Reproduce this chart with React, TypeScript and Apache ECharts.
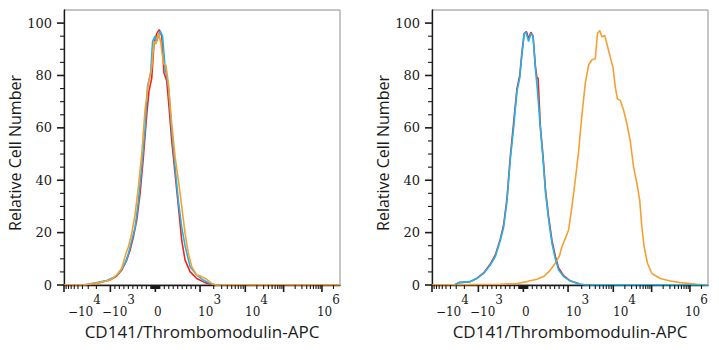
import React, { useEffect, useRef } from 'react';
import * as echarts from 'echarts';

// Display channel scale (biexponential display), 0 = left edge of plot
const X_MAX = 994;
const Y_MAX = 105;
// Major tick positions (display channels) for -10^4, -10^3, 0, 10^3, 10^4, 10^5, 10^6
const majorTickChannels = [0, 167, 329, 490, 653, 791, 929];
// Tick label texts and the channel where each label's left edge sits
const tickBase = ['−10', '−10', '0', '10', '10', '10'];
const tickExp = ['4', '3', '', '3', '4', '6'];
const labelAnchorChannels = [14, 137, 324, 483, 652, 911];
const yMajorTicks = [0, 20, 40, 60, 80, 100];
const yMinorTicks = [5, 10, 15, 25, 30, 35, 45, 50, 55, 65, 70, 75, 85, 90, 95];

// Left panel
const leftRed: [number, number][] = [
  [94, 0], [100, 0.4], [130, 1], [166, 1.9], [190, 3.4], [208, 5.7], [226, 9.5], [238, 13.3],
  [250, 18.4], [262, 24.8], [274, 35], [286, 49], [298, 65], [306, 74], [316, 79], [324, 92],
  [334, 96], [343, 97.5], [352, 95], [360, 81], [370, 78], [379, 67], [388, 55], [400, 42.5],
  [412, 30], [424, 17], [436, 9.5], [454, 5.1], [478, 2.5], [508, 0.9], [538, 0], [560, 0],
];
const leftBlue: [number, number][] = [
  [70, 0], [88, 0.4], [118, 0.9], [154, 1.7], [184, 3.2], [202, 5.1], [220, 8.3], [232, 12],
  [244, 17], [256, 22], [268, 32], [280, 45], [292, 60], [301, 76], [312, 81], [319, 93],
  [328, 95], [334, 93], [346, 97], [355, 95], [364, 83], [376, 76], [388, 59], [400, 45],
  [412, 32], [424, 22], [436, 15], [454, 7], [478, 3.8], [502, 1.9], [526, 0.6], [550, 0], [570, 0],
];
const leftOrange: [number, number][] = [
  [0, 0], [70, 0], [88, 0.25], [130, 0.9], [166, 1.9], [190, 3.8], [208, 6.4], [223, 12],
  [232, 14.6], [244, 19.7], [256, 27], [268, 37.5], [280, 50], [292, 67], [304, 77], [316, 83],
  [324, 93], [331, 92], [340, 96], [348, 93], [358, 84.5], [367, 84], [376, 77], [388, 61.6],
  [400, 49], [412, 40], [424, 30], [436, 19.7], [448, 12], [460, 7], [478, 3.8], [496, 3.2],
  [514, 2.2], [532, 0.6], [547, 0], [994, 0],
];

// Right panel
const rightRed: [number, number][] = [
  [80, 0], [96, 0.9], [138, 1.3], [162, 2.6], [186, 4.6], [210, 8], [228, 11.5], [246, 17.5],
  [258, 23], [270, 33], [282, 49], [294, 62], [306, 75], [316, 80], [324, 89], [332, 96],
  [340, 96.8], [348, 94], [356, 96.5], [364, 95], [372, 84], [378, 79], [382, 79], [390, 61],
  [400, 49], [409, 36], [420, 26], [432, 17], [444, 11], [456, 6.5], [474, 3.6], [498, 1.6],
  [534, 0.3], [558, 0], [580, 0],
];
const rightOrange: [number, number][] = [
  [0, 0], [246, 0.25], [306, 0.6], [342, 1.3], [378, 2.2], [402, 3.2], [426, 5.7], [444, 8.3],
  [458, 10.8], [468, 14.6], [480, 17.8], [492, 21], [504, 30], [516, 40], [528, 51], [540, 65],
  [552, 77], [564, 84], [576, 86], [588, 86.4], [596, 96], [604, 97.2], [612, 94.7], [622, 95.3],
  [630, 92], [642, 87], [652, 83], [660, 75.6], [668, 71], [678, 70.5], [690, 66.7], [702, 61.6],
  [714, 55], [726, 45], [738, 38.8], [748, 32.4], [756, 22], [764, 14.6], [776, 8.3], [792, 4.4],
  [822, 2.5], [858, 1.5], [894, 0.9], [930, 0.6], [954, 0.3], [994, 0],
];
const rightBlue: [number, number][] = [
  [84, 0], [96, 0.9], [138, 1.3], [162, 2.5], [186, 4.4], [210, 7.6], [228, 10.8], [246, 17],
  [258, 22], [270, 32], [282, 48], [294, 60], [306, 74], [316, 79], [324, 88], [332, 96],
  [338, 96.6], [348, 93], [356, 96], [364, 95], [372, 83], [380, 74], [390, 60], [400, 48],
  [409, 35], [420, 25], [432, 16], [444, 10], [456, 5.7], [474, 3.2], [498, 1.5], [534, 0.3],
  [558, 0], [994, 0],
];

const RED = '#f0231f';
const BLUE = '#1db6ea';
const ORANGE = '#f5a033';

function minorTickChannels(): number[] {
  const c = majorTickChannels;
  const out: number[] = [];
  const logs = [2, 3, 4, 5, 6, 7, 8, 9].map((m) => Math.log10(m));
  logs.forEach((l) => out.push(c[1] - (c[1] - c[0]) * l));
  for (let k = 1; k <= 9; k++) {
    out.push(c[2] - ((c[2] - c[1]) * k) / 10);
    out.push(c[2] + ((c[3] - c[2]) * k) / 10);
    out.push(c[2] - ((c[2] - c[1]) * k) / 100);
    out.push(c[2] + ((c[3] - c[2]) * k) / 100);
  }
  for (let i = 3; i < 6; i++) logs.forEach((l) => out.push(c[i] + (c[i + 1] - c[i]) * l));
  logs.forEach((l) => {
    const p = c[6] + (c[6] - c[5]) * l;
    if (p < X_MAX) out.push(p);
  });
  return out;
}

const serif = 'DejaVu Serif';
const sans = 'Open Sans';
const INK = '#1a1a1a';

function xAxis(gridIndex: number) {
  return {
    type: 'value', gridIndex, position: 'bottom', min: 0, max: X_MAX,
    axisLine: { show: true, onZero: false, lineStyle: { color: INK, width: 1.3 } },
    splitLine: { show: false },
    axisTick: { show: false },
    axisLabel: {
      show: true,
      showMinLabel: true,
      showMaxLabel: true,
      hideOverlap: false,
      customValues: labelAnchorChannels,
      align: 'left',
      margin: 9,
      color: INK,
      fontFamily: serif,
      fontSize: 12,
      formatter: (v: number) => {
        const i = labelAnchorChannels.indexOf(v);
        if (i < 0) return '';
        return tickExp[i] ? `{b|${tickBase[i]}}{s|${tickExp[i]}}` : `{b|${tickBase[i]}}`;
      },
      rich: {
        b: { fontFamily: serif, fontSize: 12, color: INK, lineHeight: 24, verticalAlign: 'bottom', align: 'left' },
        s: { fontFamily: serif, fontSize: 12, color: INK, lineHeight: 14, verticalAlign: 'top', align: 'left' },
      },
    },
    name: 'CD141/Thrombomodulin-APC',
    nameLocation: 'middle',
    nameGap: 38,
    nameTextStyle: { fontFamily: sans, fontSize: 17, color: INK },
  };
}

function yAxis(gridIndex: number) {
  return {
    type: 'value', gridIndex, position: 'left', min: 0, max: Y_MAX,
    axisLine: { show: true, onZero: false, lineStyle: { color: INK, width: 1.3 } },
    splitLine: { show: false },
    axisTick: { show: false },
    axisLabel: {
      show: true,
      customValues: yMajorTicks,
      margin: 12,
      color: INK,
      fontFamily: serif,
      fontSize: 13,
      formatter: (v: number) => `{y|${v}}`,
      rich: { y: { fontFamily: serif, fontSize: 13, color: INK } },
    },
    name: 'Relative Cell Number',
    nameLocation: 'middle',
    nameGap: 40,
    nameTextStyle: { fontFamily: sans, fontSize: 16, color: INK, padding: [0, 11, 0, 0] },
  };
}

// Tick marks drawn through the axes' own scales (api.coord)
function tickSeries(values: number[], dir: 'x' | 'y', len: number, width: number, gi: number) {
  return {
    type: 'custom',
    xAxisIndex: gi,
    yAxisIndex: gi,
    clip: false,
    silent: true,
    z: 5,
    encode: { x: 0, y: 1 },
    data: values.map((v) => (dir === 'x' ? [v, 0] : [0, v])),
    renderItem: (_params: any, api: any) => {
      const p = api.coord([api.value(0), api.value(1)]);
      const shape =
        dir === 'x'
          ? { x1: p[0], y1: p[1], x2: p[0], y2: p[1] + len }
          : { x1: p[0] - len, y1: p[1], x2: p[0], y2: p[1] };
      return { type: 'line', shape, style: { stroke: INK, lineWidth: width, fill: null } };
    },
  };
}

function line(data: [number, number][], color: string, gi: number, z: number) {
  return {
    type: 'line', data, xAxisIndex: gi, yAxisIndex: gi, showSymbol: false, symbol: 'none',
    lineStyle: { color, width: 1.6 }, itemStyle: { color }, z, clip: true,
  };
}

export default function App() {
  const ref = useRef<HTMLDivElement>(null);
  useEffect(() => {
    if (!ref.current) return;
    const chart = echarts.init(ref.current, undefined, { renderer: 'svg' });
    const minors = minorTickChannels();
    const ticks = (gi: number) => [
      tickSeries(majorTickChannels, 'x', 7, 1.6, gi),
      tickSeries(minors, 'x', 4, 1.1, gi),
      tickSeries(yMajorTicks, 'y', 7, 1.6, gi),
      tickSeries(yMinorTicks, 'y', 4, 1.1, gi),
    ];
    chart.setOption({
      animation: false,
      backgroundColor: '#fff',
      grid: [
        { left: 64, top: 10, width: 276, height: 275, show: true, borderColor: '#8a8a8a', borderWidth: 1, containLabel: false },
        { left: 432, top: 10, width: 276, height: 275, show: true, borderColor: '#8a8a8a', borderWidth: 1, containLabel: false },
      ],
      xAxis: [xAxis(0), xAxis(1)],
      yAxis: [yAxis(0), yAxis(1)],
      series: [
        line(leftRed, RED, 0, 2),
        line(leftBlue, BLUE, 0, 3),
        line(leftOrange, ORANGE, 0, 4),
        line(rightRed, RED, 1, 2),
        line(rightOrange, ORANGE, 1, 3),
        line(rightBlue, BLUE, 1, 4),
        ...ticks(0),
        ...ticks(1),
      ],
    });
    return () => chart.dispose();
  }, []);
  return (
    <div
      ref={ref}
      style={{ position: 'fixed', left: 0, top: 0, width: 719, height: 350, background: '#fff' }}
    />
  );
}
